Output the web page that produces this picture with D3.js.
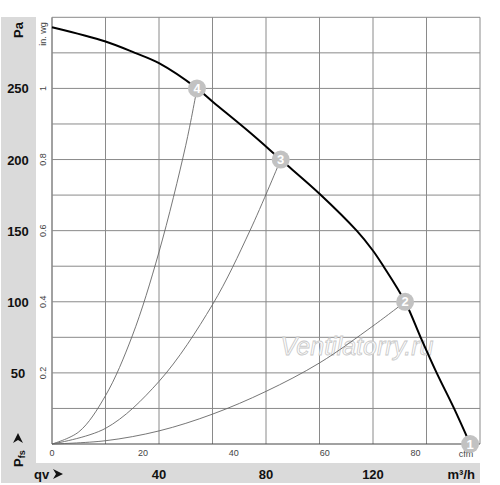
<!DOCTYPE html>
<html>
<head>
<meta charset="utf-8">
<script src="https://cdn.jsdelivr.net/npm/d3@7"></script>
<style>
  body { margin: 0; background: #fff; }
  svg { display: block; font-family: "Liberation Sans", Arial, sans-serif; }
</style>
</head>
<body>
<svg id="chart" width="500" height="485"></svg>
<script>
// fan curve: flow in m3/h, pressure in Pa
var fanFlow = [0, 20, 31, 40, 54.2, 60.3, 74, 85.5, 100, 113.9, 119.8, 123.9, 132, 137.8, 143.8, 150.3, 156.3]
var fanPressure = [293, 283, 275, 267.7, 250, 240.3, 219, 200, 176, 150, 136.4, 125, 100, 75, 50, 25, 0]

// system resistance curves
var sys4Flow = [0, 10, 20, 30, 40, 50, 54.2]
var sys4Pressure = [0, 8.5, 34, 76, 135, 210, 250]
var sys3Flow = [0, 20, 40, 60, 74, 85.5]
var sys3Pressure = [0, 11, 44, 98, 150, 200]
var sys2Flow = [0, 20, 40, 60, 80, 100, 120, 132]
var sys2Pressure = [0, 2.3, 9.2, 21, 37, 57, 83, 100]

// operating points
var pointLabels = ['1', '2', '3', '4']
var pointFlow = [156.3, 132, 85.5, 54.2]
var pointPressure = [0, 100, 200, 250]

// tick labels
var paTicks = [50, 100, 150, 200, 250]
var inwgTicks = [0.2, 0.4, 0.6, 0.8, 1]
var cfmTicks = [0, 20, 40, 60, 80]
var m3hTicks = [40, 80, 120]

var svg = d3.select('#chart')

var x = d3.scaleLinear().domain([0, 160]).range([52, 480])
var y = d3.scaleLinear().domain([0, 300]).range([444, 17.3])
var yIn = d3.scaleLinear().domain([0, 1.2]).range([444, 17.3])
var xCfm = d3.scaleLinear().domain([0, 160 / 1.699]).range([52, 480])

// grey side and bottom bands
svg.append('rect')
  .attr('x', 1).attr('y', 17).attr('width', 35).attr('height', 466)
  .attr('fill', '#dadada')
svg.append('rect')
  .attr('x', 1).attr('y', 463).attr('width', 479).attr('height', 20)
  .attr('fill', '#dadada')

// grid
var grid = svg.append('g')
grid.selectAll('line.v')
  .data(d3.range(0, 161, 20))
  .enter().append('line')
  .attr('x1', function (d) { return x(d) })
  .attr('x2', function (d) { return x(d) })
  .attr('y1', y(0))
  .attr('y2', y(300))
  .attr('stroke', function (d) { return d === 0 ? '#444' : '#8a8a8a' })
  .attr('stroke-width', 1)
grid.selectAll('line.h')
  .data(d3.range(0, 301, 25))
  .enter().append('line')
  .attr('x1', x(0))
  .attr('x2', x(160))
  .attr('y1', function (d) { return y(d) })
  .attr('y2', function (d) { return y(d) })
  .attr('stroke', function (d) { return d === 0 ? '#444' : '#8a8a8a' })
  .attr('stroke-width', 1)

// watermark
svg.append('text')
  .attr('x', 357).attr('y', 355)
  .attr('text-anchor', 'middle')
  .attr('font-size', '25px')
  .attr('font-style', 'italic')
  .attr('fill', '#fff')
  .attr('stroke', '#c8c8c8')
  .attr('stroke-width', 0.8)
  .text('Ventilatorry.ru')

// curves
var line = d3.line()
  .x(function (d) { return x(d[0]) })
  .y(function (d) { return y(d[1]) })
  .curve(d3.curveCatmullRom.alpha(0.5))

function pairs (a, b) {
  return a.map(function (v, i) { return [v, b[i]] })
}

;[[sys4Flow, sys4Pressure], [sys3Flow, sys3Pressure], [sys2Flow, sys2Pressure]].forEach(function (s) {
  svg.append('path')
    .datum(pairs(s[0], s[1]))
    .attr('d', line)
    .attr('fill', 'none')
    .attr('stroke', '#666')
    .attr('stroke-width', 0.9)
})

svg.append('path')
  .datum(pairs(fanFlow, fanPressure))
  .attr('d', line)
  .attr('fill', 'none')
  .attr('stroke', '#000')
  .attr('stroke-width', 2)

// left labels
svg.selectAll('text.pa')
  .data(paTicks)
  .enter().append('text')
  .attr('x', 18)
  .attr('y', function (d) { return y(d) + 5 })
  .attr('text-anchor', 'middle')
  .attr('font-size', '13px')
  .attr('font-weight', 'bold')
  .attr('fill', '#111')
  .text(function (d) { return d })

svg.append('text')
  .attr('transform', 'translate(23,30) rotate(-90)')
  .attr('text-anchor', 'middle')
  .attr('font-size', '13px')
  .attr('font-weight', 'bold')
  .attr('fill', '#111')
  .text('Pa')

svg.selectAll('text.inwg')
  .data(inwgTicks)
  .enter().append('text')
  .attr('transform', function (d) { return 'translate(46,' + yIn(d) + ') rotate(-90)' })
  .attr('text-anchor', 'middle')
  .attr('font-size', '9px')
  .attr('fill', '#444')
  .text(function (d) { return d })

svg.append('text')
  .attr('transform', 'translate(46,34) rotate(-90)')
  .attr('text-anchor', 'middle')
  .attr('font-size', '9px')
  .attr('fill', '#444')
  .text('in. wg')

// P_fs label with arrow
var pfs = svg.append('text')
  .attr('transform', 'translate(23,467) rotate(-90)')
  .attr('font-weight', 'bold')
  .attr('fill', '#111')
pfs.append('tspan').attr('font-size', '13px').text('P')
pfs.append('tspan').attr('font-size', '9px').attr('dy', 2).text('fs')
svg.append('path')
  .attr('d', 'M18,433 L23,443 L18,440 L13,443 Z')
  .attr('fill', '#111')

// bottom labels
svg.selectAll('text.cfm')
  .data(cfmTicks)
  .enter().append('text')
  .attr('x', function (d) { return xCfm(d) })
  .attr('y', 456)
  .attr('text-anchor', 'middle')
  .attr('font-size', '9px')
  .attr('fill', '#444')
  .text(function (d) { return d })

svg.append('text')
  .attr('x', 466).attr('y', 457)
  .attr('text-anchor', 'middle')
  .attr('font-size', '9px')
  .attr('fill', '#444')
  .text('cfm')

svg.selectAll('text.m3h')
  .data(m3hTicks)
  .enter().append('text')
  .attr('x', function (d) { return x(d) })
  .attr('y', 479)
  .attr('text-anchor', 'middle')
  .attr('font-size', '13px')
  .attr('font-weight', 'bold')
  .attr('fill', '#111')
  .text(function (d) { return d })

svg.append('text')
  .attr('x', 475).attr('y', 479)
  .attr('text-anchor', 'end')
  .attr('font-size', '13px')
  .attr('font-weight', 'bold')
  .attr('fill', '#111')
  .text('m³/h')

svg.append('text')
  .attr('x', 34).attr('y', 479)
  .attr('font-size', '13px')
  .attr('font-weight', 'bold')
  .attr('fill', '#111')
  .text('qv')
svg.append('path')
  .attr('d', 'M53,469 L63,474 L53,479 L56,474 Z')
  .attr('fill', '#111')

// operating points
var pts = svg.selectAll('g.pt')
  .data(pointLabels)
  .enter().append('g')
  .attr('transform', function (d, i) {
    return 'translate(' + x(pointFlow[i]) + ',' + y(pointPressure[i]) + ')'
  })
pts.append('circle')
  .attr('r', 9)
  .attr('fill', '#c2c2c2')
pts.append('text')
  .attr('y', 4.5)
  .attr('text-anchor', 'middle')
  .attr('font-size', '13px')
  .attr('font-weight', 'bold')
  .attr('fill', '#fff')
  .text(function (d) { return d })
</script>
</body>
</html>
